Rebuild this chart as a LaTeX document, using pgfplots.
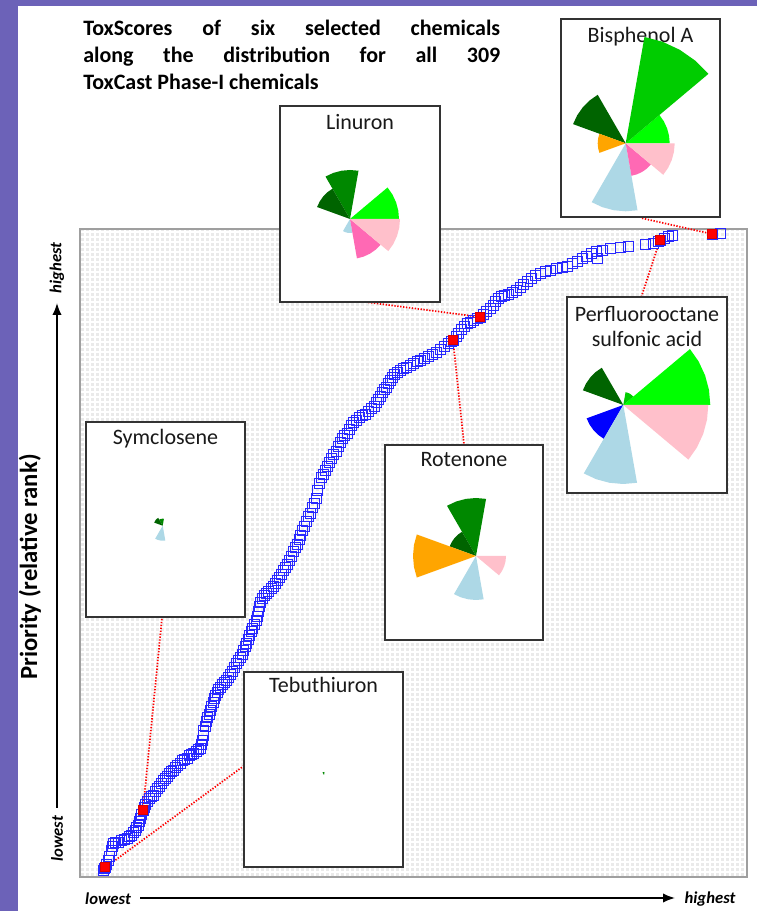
\documentclass[border=0pt]{standalone}
\usepackage{pgfplots}
\pgfplotsset{compat=1.18}
\usepgfplotslibrary{polar}
\usetikzlibrary{arrows.meta}
\usepackage{fontspec}
\setmainfont{Carlito}
\definecolor{pLime}{RGB}{0,255,0}
\definecolor{pGb}{RGB}{0,204,0}
\definecolor{pGc}{RGB}{0,136,0}
\definecolor{pDG}{RGB}{0,100,0}
\definecolor{pOr}{RGB}{255,165,0}
\definecolor{pBl}{RGB}{0,0,255}
\definecolor{pLB}{RGB}{173,216,230}
\definecolor{pHP}{RGB}{255,105,180}
\definecolor{pPk}{RGB}{255,192,203}
\definecolor{bandpurple}{RGB}{108,98,184}
\definecolor{gridgray}{RGB}{234,234,234}
\definecolor{chainblue}{RGB}{40,40,255}
\newcommand{\wA}[1]{\addplot[draw=none,fill=pLime] coordinates {(0,0) (0,#1) (10,#1) (20,#1) (30,#1) (40,#1) (0,0)};}
\newcommand{\wB}[1]{\addplot[draw=none,fill=pGb] coordinates {(0,0) (40,#1) (50,#1) (60,#1) (70,#1) (80,#1) (0,0)};}
\newcommand{\wC}[1]{\addplot[draw=none,fill=pGc] coordinates {(0,0) (80,#1) (90,#1) (100,#1) (110,#1) (120,#1) (0,0)};}
\newcommand{\wD}[1]{\addplot[draw=none,fill=pDG] coordinates {(0,0) (120,#1) (130,#1) (140,#1) (150,#1) (160,#1) (0,0)};}
\newcommand{\wE}[1]{\addplot[draw=none,fill=pOr] coordinates {(0,0) (160,#1) (170,#1) (180,#1) (190,#1) (200,#1) (0,0)};}
\newcommand{\wF}[1]{\addplot[draw=none,fill=pBl] coordinates {(0,0) (200,#1) (210,#1) (220,#1) (230,#1) (240,#1) (0,0)};}
\newcommand{\wG}[1]{\addplot[draw=none,fill=pLB] coordinates {(0,0) (240,#1) (250,#1) (260,#1) (270,#1) (280,#1) (0,0)};}
\newcommand{\wH}[1]{\addplot[draw=none,fill=pHP] coordinates {(0,0) (280,#1) (290,#1) (300,#1) (310,#1) (320,#1) (0,0)};}
\newcommand{\wI}[1]{\addplot[draw=none,fill=pPk] coordinates {(0,0) (320,#1) (330,#1) (340,#1) (350,#1) (360,#1) (0,0)};}
\pgfplotsset{pie/.style={hide axis, scale only axis, width=165pt, height=165pt, xmin=0, xmax=360, ymin=0, ymax=110, clip=false, anchor=center}}
\begin{document}
\begin{tikzpicture}[x=0.75pt,y=0.75pt]
\useasboundingbox (0,0) rectangle (757,911);
\fill[white] (0,0) rectangle (757,911);
\fill[bandpurple] (0,0) rectangle (18,911);
\fill[bandpurple] (0,905) rectangle (757,911);
\coordinate (mainSW) at (80,34);
\begin{axis}[at={(mainSW)}, anchor=south west, scale only axis,
  width=500.25pt, height=486pt,
  xmin=80, xmax=747, ymin=34, ymax=682,
  xtick={80,85,...,747}, ytick={34,39,...,682},
  xticklabels={}, yticklabels={}, major tick length=0pt,
  grid=major, grid style={white, line width=0.9pt},
  axis background/.style={fill=gridgray},
  axis line style={draw=gray!75, line width=0.9pt}, clip=false]
% connector lines
\addplot[red, line width=1.3pt, dash pattern=on 1pt off 1.2pt] coordinates {(106,44) (245,146)};
\addplot[red, line width=1.3pt, dash pattern=on 1pt off 1.2pt] coordinates {(143,101) (162,293)};
\addplot[red, line width=1.3pt, dash pattern=on 1pt off 1.2pt] coordinates {(453,571) (464,467)};
\addplot[red, line width=1.3pt, dash pattern=on 1pt off 1.2pt] coordinates {(480,594) (358,610)};
\addplot[red, line width=1.3pt, dash pattern=on 1pt off 1.2pt] coordinates {(660,671) (641,613)};
\addplot[red, line width=1.3pt, dash pattern=on 1pt off 1.2pt] coordinates {(712,677) (641,693)};
% all chemicals
\addplot[only marks, mark=square, mark size=3.8pt, chainblue, mark options={line width=0.5pt}] coordinates {
(103,41) (104,43) (105,44) (106,47) (108,51) (109,55) (111,61) (112,65) (113,68) (115,69)
(118,69) (121,71) (124,72) (127,73) (129,75) (131,76) (133,79) (135,81) (136,84) (138,86)
(139,90) (140,93) (141,97) (143,101) (144,104) (145,107) (147,110) (149,113) (151,115) (153,116)
(155,120) (157,123) (159,125) (161,128) (163,131) (165,133) (167,135) (169,138) (171,140) (173,141)
(175,144) (177,146) (180,148) (182,151) (184,152) (187,153) (189,156) (191,157) (193,158) (196,160)
(198,162) (200,163) (201,167) (202,171) (203,176) (203,181) (205,185) (206,190) (207,194) (209,197)
(210,201) (211,205) (213,209) (214,213) (215,216) (217,219) (218,222) (220,224) (222,227) (224,229)
(226,231) (228,234) (230,237) (232,240) (234,244) (236,248) (238,251) (240,254) (242,257) (243,261)
(245,265) (246,268) (248,272) (249,276) (251,280) (252,283) (254,287) (256,291) (257,295) (258,300)
(259,305) (260,309) (262,313) (264,316) (266,318) (268,320) (271,323) (273,325) (275,328) (277,331)
(279,334) (281,337) (283,341) (285,344) (287,347) (289,351) (291,355) (293,360) (295,364) (297,367)
(299,372) (300,376) (302,381) (304,385) (306,390) (308,395) (310,398) (312,404) (314,408) (316,413)
(317,421) (319,428) (321,434) (323,437) (325,441) (327,445) (329,449) (331,453) (333,457) (336,460)
(338,465) (340,469) (342,473) (344,476) (347,478) (349,482) (351,486) (353,489) (356,491) (359,494)
(362,496) (365,497) (368,500) (371,503) (374,505) (376,509) (378,512) (380,515) (382,519) (384,522)
(386,524) (388,528) (390,531) (392,534) (394,537) (397,539) (400,541) (403,543) (406,544) (410,546)
(413,548) (417,550) (420,551) (424,553) (428,555) (432,557) (436,559) (440,562) (444,565) (448,568)
(451,570) (453,571) (456,575) (458,578) (461,582) (464,585) (467,588) (470,589) (473,591) (477,593)
(480,594) (483,597) (486,600) (490,603) (493,606) (495,610) (498,613) (501,615) (504,616) (508,617)
(512,619) (516,621) (520,624) (523,627) (527,630) (531,633) (535,636) (540,638) (545,640) (550,641)
(556,643) (562,644) (567,645) (572,648) (577,650) (582,653) (586,655) (591,658) (596,660) (597,653)
(602,661) (610,663) (620,664) (628,665) (645,667) (653,668) (658,670) (660,671) (664,673) (668,675)
(672,676) (712,677) (720,678)};
% six selected chemicals
\addplot[only marks, mark=square*, mark size=3.4pt, mark options={fill=red, draw=red!85!black, line width=0.5pt}] coordinates {
(105,44) (143,101) (453,571) (480,594) (660,671) (712,677)};
\end{axis}
% axis arrows and labels
\draw[line width=1.2pt, -{Latex[length=9pt,width=7pt]}] (57,103) -- (57,608);
\draw[line width=1.2pt, -{Latex[length=9pt,width=7pt]}] (140,13) -- (675,13);
\node[rotate=90, font=\bfseries\itshape\fontsize{12.5}{14}\selectfont] at (57,643) {highest};
\node[rotate=90, font=\bfseries\itshape\fontsize{12.5}{14}\selectfont] at (57,72) {lowest};
\node[font=\bfseries\itshape\fontsize{12.5}{14}\selectfont] at (108,12) {lowest};
\node[font=\bfseries\itshape\fontsize{12.5}{14}\selectfont] at (710,12) {highest};
\node[rotate=90, font=\bfseries\fontsize{18.5}{20}\selectfont] at (30,344) {Priority (relative rank)};
% title
\node[anchor=base west, inner sep=0pt, font=\bfseries\fontsize{16.5}{18}\selectfont] at (83,875) {\makebox[312.75pt][s]{ToxScores of six selected chemicals}};
\node[anchor=base west, inner sep=0pt, font=\bfseries\fontsize{16.5}{18}\selectfont] at (83,848) {\makebox[312.75pt][s]{along the distribution for all 309}};
\node[anchor=base west, inner sep=0pt, font=\bfseries\fontsize{16.5}{18}\selectfont] at (83,821) {ToxCast Phase-I chemicals};
% boxes
\draw[line width=1pt, black!80, fill=white] (280,805) rectangle (440,609);
\draw[line width=1pt, black!80, fill=white] (561,892) rectangle (720,694);
\draw[line width=1pt, black!80, fill=white] (567,614) rectangle (727,418);
\draw[line width=1pt, black!80, fill=white] (385,466) rectangle (543,271);
\draw[line width=1pt, black!80, fill=white] (86,489) rectangle (245,294);
\draw[line width=1pt, black!80, fill=white] (244,239) rectangle (403,44);
\begin{scope}[every node/.style={anchor=base, inner sep=0pt, font=\fontsize{16.5}{19}\selectfont, text=black!90}]
\node at (360,781) {Linuron};
\node at (640.5,868) {Bisphenol A};
\node at (647,589) {Perfluorooctane};
\node at (647,564) {sulfonic acid};
\node at (464,444) {Rotenone};
\node at (165.5,466) {Symclosene};
\node at (323.5,218) {Tebuthiuron};
\end{scope}
% ToxPi profiles
\coordinate (cBPA) at (625.7,767.7);
\coordinate (cPFOS) at (623.3,506);
\coordinate (cROT) at (476,355);
\coordinate (cLIN) at (350,692);
\coordinate (cSYM) at (162.7,385.3);
\coordinate (cTEB) at (324,136);
\begin{polaraxis}[pie, at={(cBPA)}]
\wA{44}\wB{108}\wD{56}\wE{28}\wG{68}\wH{33}\wI{49}
\end{polaraxis}
\begin{polaraxis}[pie, at={(cPFOS)}]
\wA{87}\wB{13}\wD{43}\wF{39}\wG{79}\wI{85}
\end{polaraxis}
\begin{polaraxis}[pie, at={(cROT)}]
\wC{58}\wD{28}\wE{63}\wG{44}\wI{30}
\end{polaraxis}
\begin{polaraxis}[pie, at={(cLIN)}]
\wA{49}\wC{49}\wD{35}\wG{14}\wH{40}\wI{50}
\end{polaraxis}
\begin{polaraxis}[pie, at={(cSYM)}]
\wC{7}\wD{9}\wG{15}
\end{polaraxis}
\begin{polaraxis}[pie, at={(cTEB)}]
\wC{3}
\end{polaraxis}
\end{tikzpicture}
\end{document}
